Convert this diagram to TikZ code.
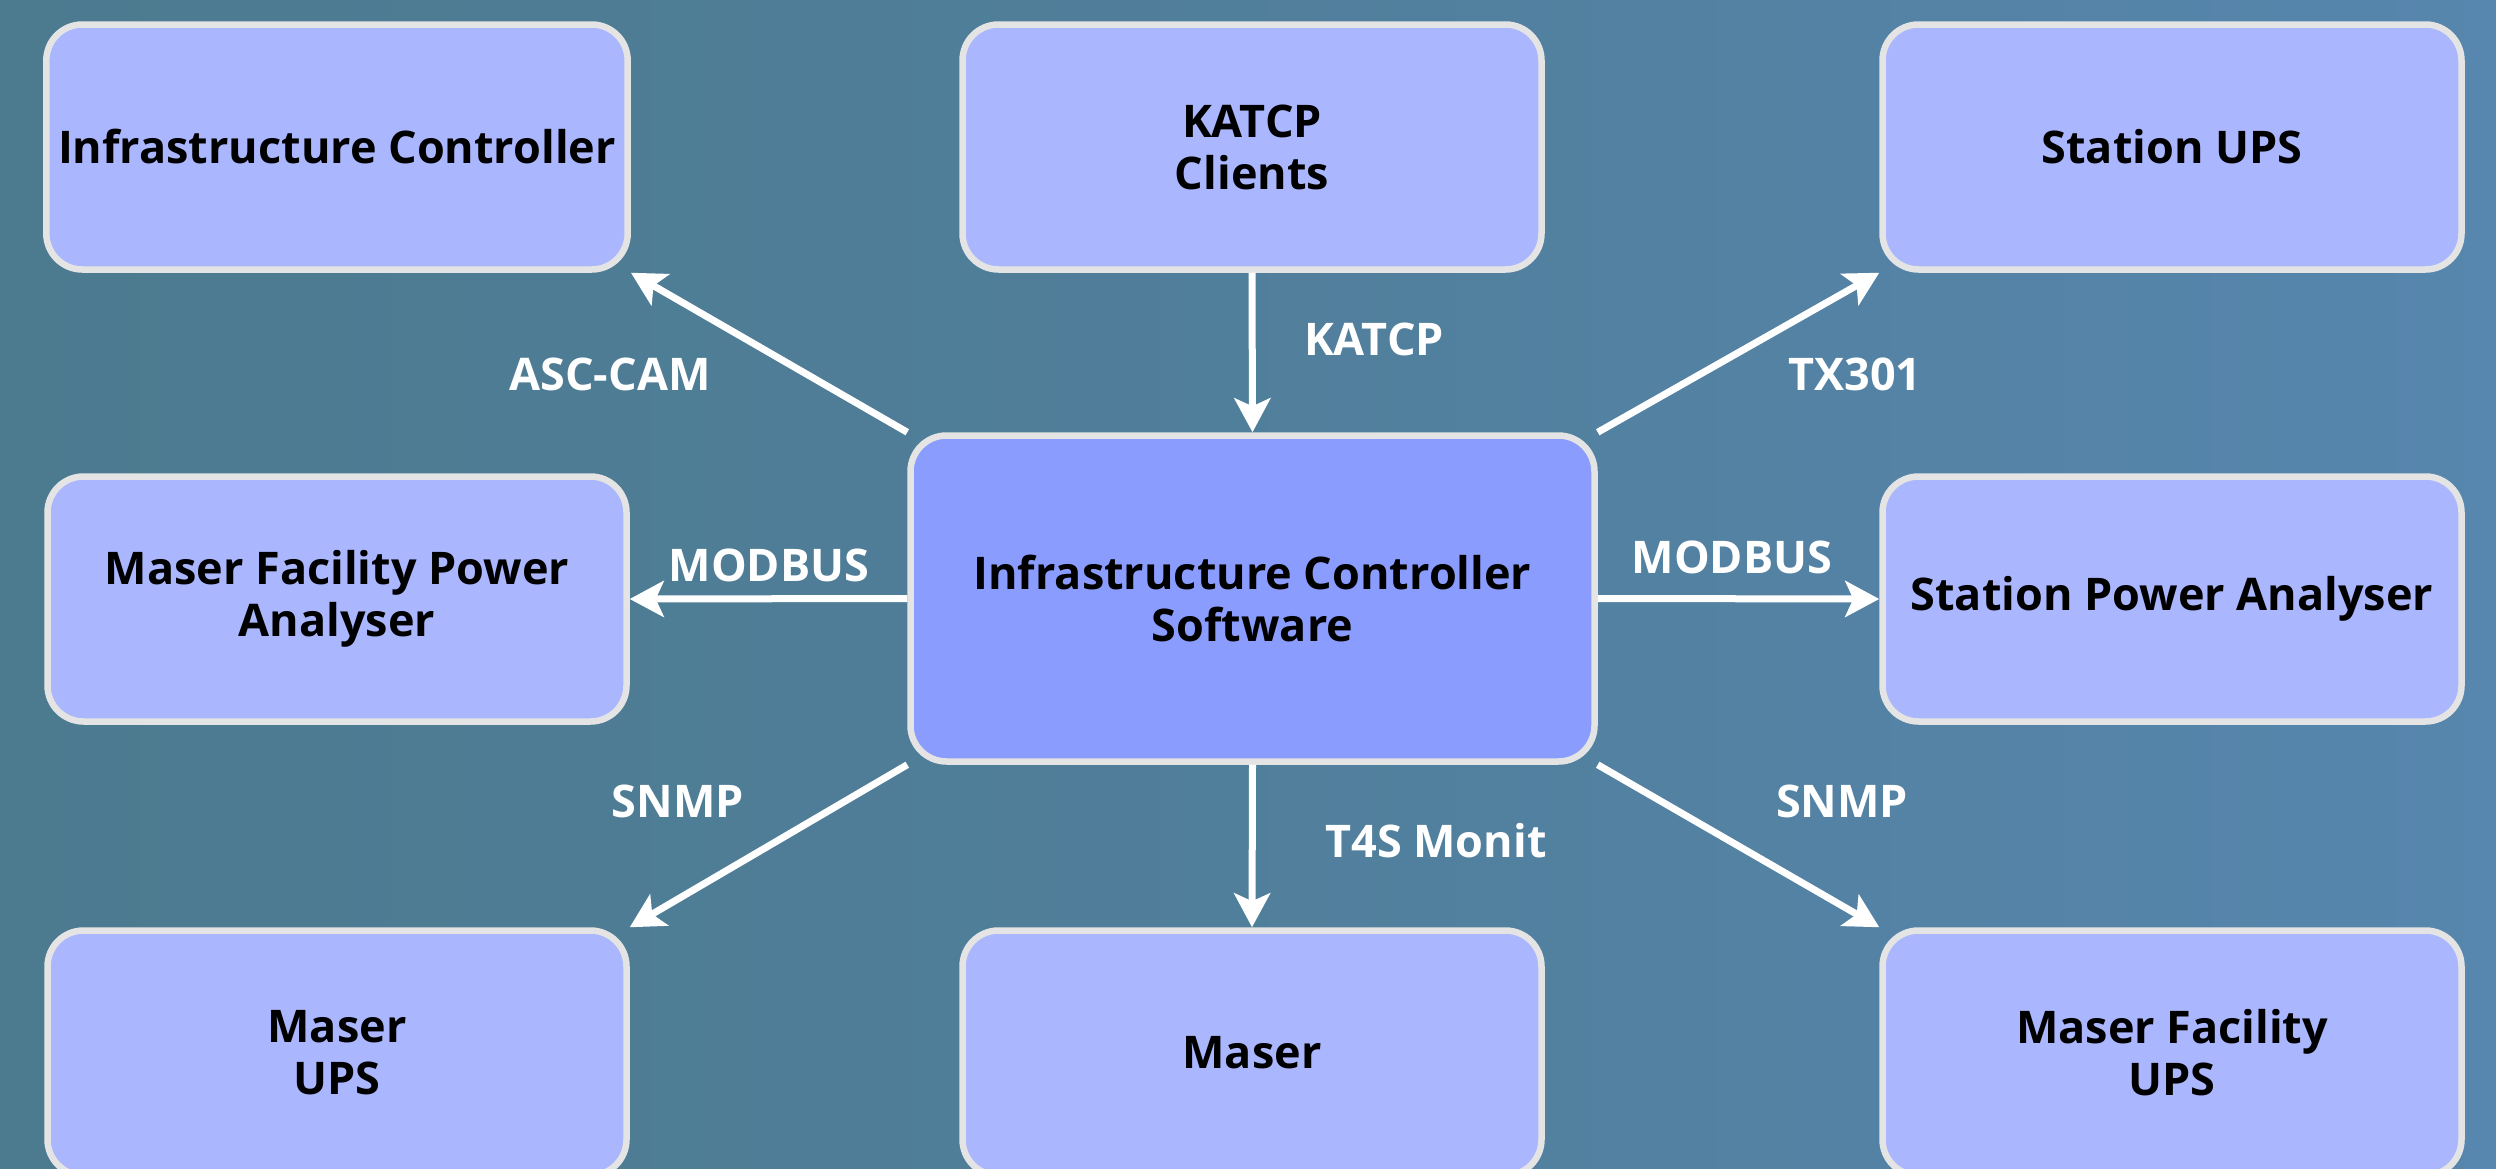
\documentclass[tikz,border=0pt]{standalone}
\usepackage{fontspec}
\setmainfont{Open Sans}
\usetikzlibrary{arrows.meta, positioning}

\definecolor{bgteal}{HTML}{4C7A8F}
\definecolor{bgblue}{HTML}{5786AE}
\definecolor{boxfill}{HTML}{AAB6FD}
\definecolor{corefill}{HTML}{8A9CFD}
\definecolor{boxline}{HTML}{E4E4E4}

\begin{document}
\begin{tikzpicture}[
    >=Stealth,
    font=\fontsize{12.8}{14.8}\selectfont\bfseries,
    unit/.style = {draw=boxline, line width=0.065cm, fill=boxfill, rounded corners=0.36cm,
                   minimum width=5.79cm, minimum height=2.45cm, align=center, text=black},
    core/.style = {unit, fill=corefill, minimum width=6.84cm, minimum height=3.26cm},
    link/.style = {white, line width=0.07cm, -{Stealth[length=0.34cm,width=0.36cm,inset=0.08cm]}},
    proto/.style = {text=white, inner sep=1pt},
]

% Hintergrund
\useasboundingbox (0,0) rectangle (24.96,-11.69);
\clip (0,0) rectangle (24.96,-11.69);
\shade[left color=bgteal, right color=bgblue, middle color=bgteal!60!bgblue]
    (0,0) rectangle (24.96,-11.69);

% Zentrale Software
\node[core] (ics) at (12.525,-5.985) {Infrastructure Controller\\Software};

% obere Reihe
\node[unit] (infra) at (3.37,-1.47)  {Infrastructure Controller};
\node[unit] (katcp) at (12.52,-1.47) {KATCP\\Clients};
\node[unit] (stups) at (21.72,-1.47) {Station UPS};

% mittlere Reihe
\node[unit] (mfpa) at (3.37,-5.99)  {Maser Facility Power\\Analyser};
\node[unit] (stpa) at (21.72,-5.99) {Station Power Analyser};

% untere Reihe
\node[unit] (mups)  at (3.37,-10.53)  {Maser\\UPS};
\node[unit] (maser) at (12.52,-10.53) {Maser};
\node[unit] (mfups) at (21.72,-10.53) {Maser Facility\\UPS};

% Verbindungen
\draw[link] (katcp.south) -- (ics.north);
\draw[link] (ics.north west) -- (infra.south east);
\draw[link] (ics.north east) -- (stups.south west);
\draw[link] (ics.west) -- (mfpa.east);
\draw[link] (ics.east) -- (stpa.west);
\draw[link] (ics.south west) -- (mups.north east);
\draw[link] (ics.south) -- (maser.north);
\draw[link] (ics.south east) -- (mfups.north west);

% Protokolle
\node[proto] (pkatcp) at (13.74,-3.39) {KATCP};
\node[proto] (pasc)   at (6.10,-3.74)  {ASC-CAM};
\node[proto] (ptx)    at (18.55,-3.74) {TX301};
\node[proto] (pmodl)  at (7.69,-5.65)  {MODBUS};
\node[proto] (pmodr)  at (17.32,-5.57) {MODBUS};
\node[proto] (psnl)   at (6.78,-8.01)  {SNMP};
\node[proto] (pt4s)   at (14.36,-8.41) {T4S Monit};
\node[proto] (psnr)   at (18.42,-8.01) {SNMP};

\end{tikzpicture}
\end{document}
